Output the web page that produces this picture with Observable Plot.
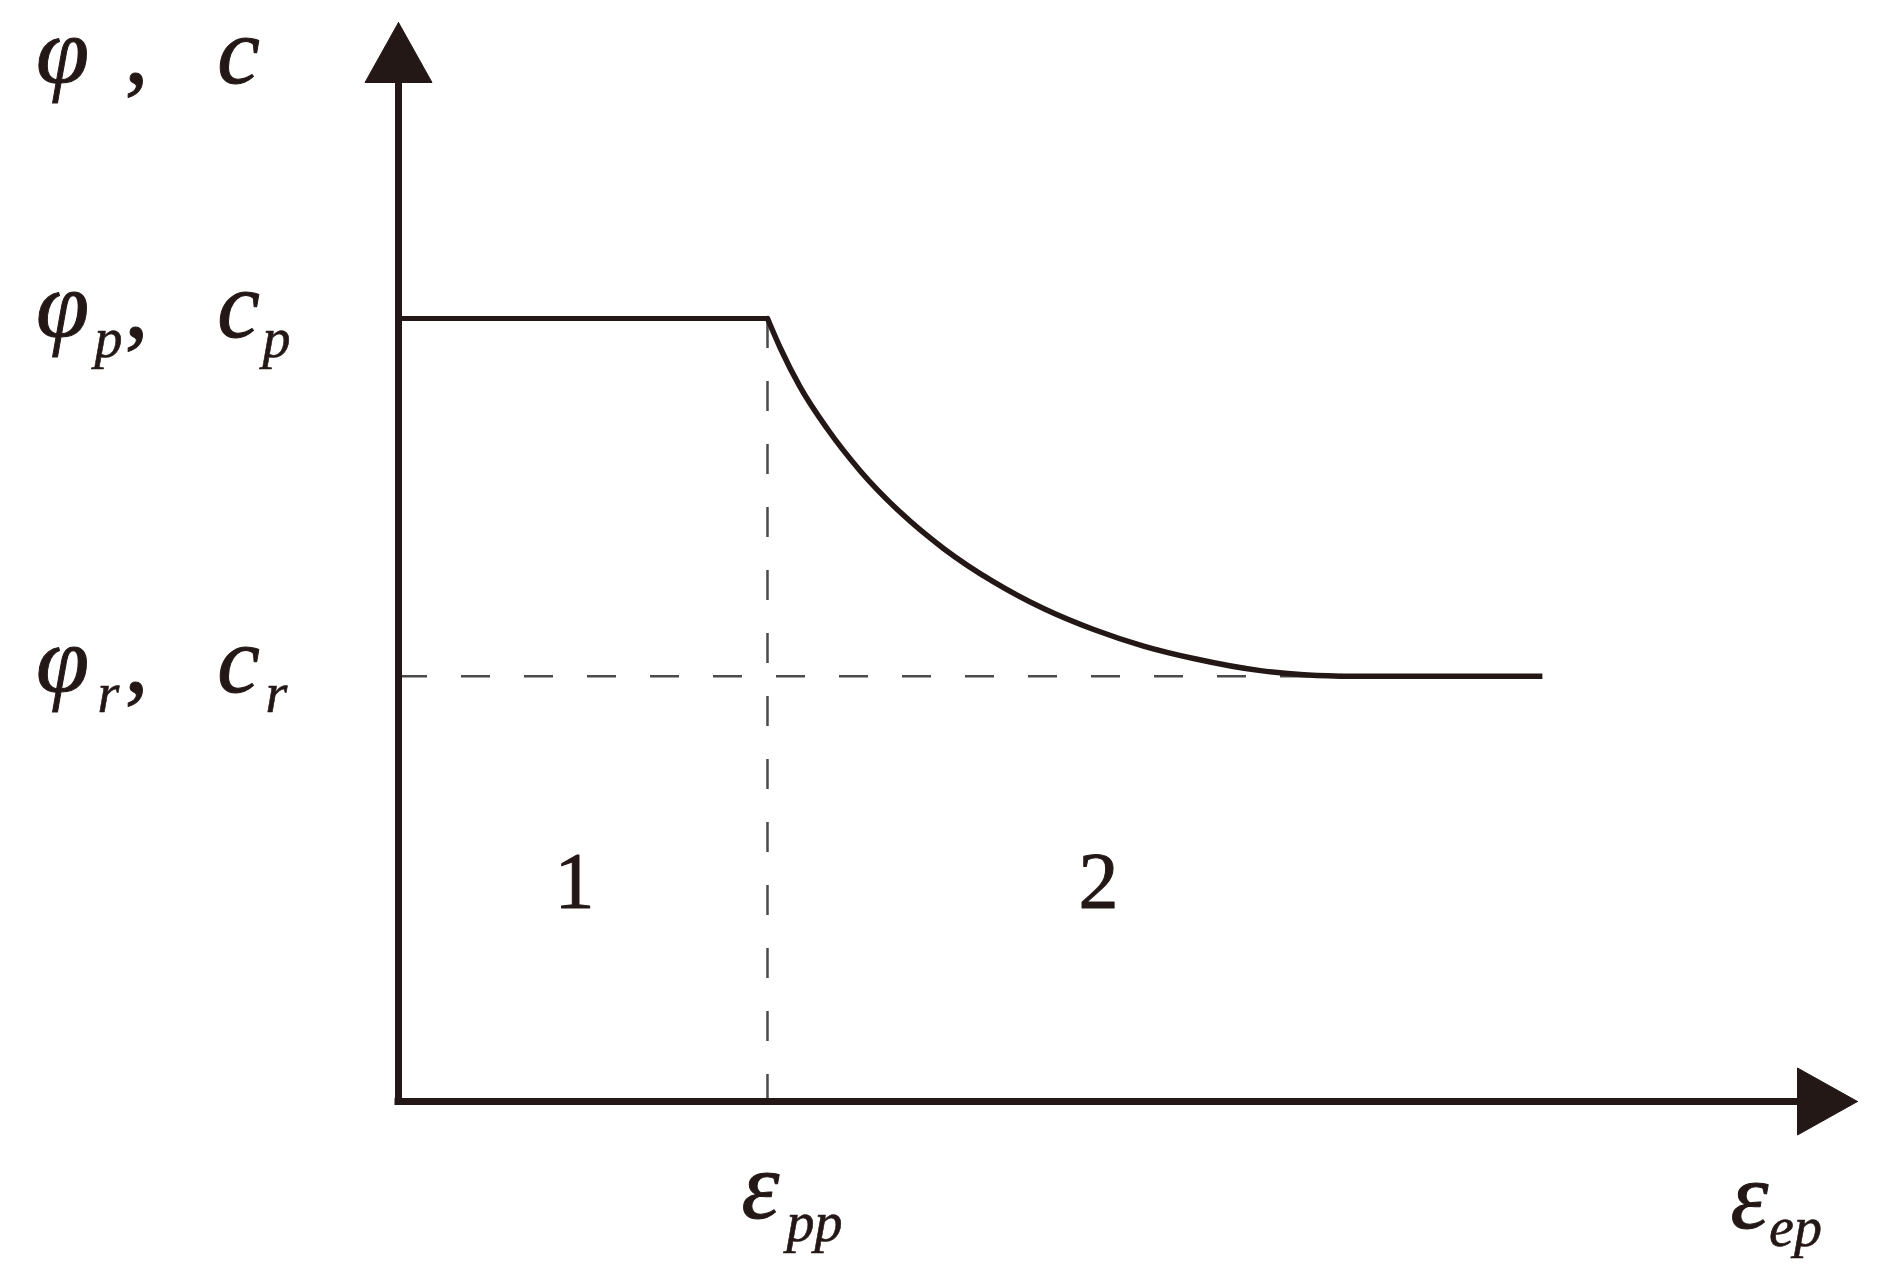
<!DOCTYPE html>
<html>
<head>
<meta charset="utf-8">
<script src="https://cdn.jsdelivr.net/npm/d3@7"></script>
<script src="https://cdn.jsdelivr.net/npm/@observablehq/plot@0.6"></script>
<style>
  html, body { margin: 0; padding: 0; background: #ffffff; }
  #chart svg { display: block; }
</style>
</head>
<body>
<div id="chart"></div>
<script>
// ---- Data (x in units of ε_pp, y in units of the peak strength) ----
const peakStrain = 1.0;            // ε_pp
const peakStrength = 1.0;          // φ_p, c_p
const residualStrength = 0.543;    // φ_r, c_r
const softeningX = [1.000, 1.035, 1.089, 1.163, 1.252, 1.360, 1.477, 1.613, 1.748, 1.884, 2.019, 2.155, 2.336, 2.444, 2.553];
const softeningY = [1.000, 0.962, 0.912, 0.8585, 0.805, 0.7524, 0.7063, 0.6635, 0.6296, 0.6028, 0.5817, 0.5658, 0.5503, 0.5452, 0.543];
const residualEndX = 3.100;
const axisMaxX = 3.954;
const axisMaxY = 1.378;
const regionLabels = ["1", "2"];
const regionLabelX = [0.477, 1.897];
const regionLabelY = [0.2465, 0.2465];
const yLabelMain = ["φ", "φ", "φ"];
const yLabelSecond = ["c", "c", "c"];
const yLabelSub = ["", "p", "r"];
const xLabelMain = ["ε", "ε"];
const xLabelSub = ["pp", "ep"];

// ---- Layout ----
const W = 1879, H = 1275;
const mL = 398, mR = 22, mT = 22, mB = 174;
const pxX = (W - mL - mR) / axisMaxX;
const pxY = (H - mT - mB) / axisMaxY;
const ink = "#231815";
const dashInk = "#4a4a4a";
const serif = "'Liberation Serif', 'Times New Roman', serif";

const peakLine = [{x: 0, y: peakStrength}, {x: peakStrain, y: peakStrength}];
const softening = softeningX.map((x, i) => ({x, y: softeningY[i]}));
const tail = [{x: softeningX[softeningX.length - 1], y: residualStrength}, {x: residualEndX, y: residualStrength}];

// arrow heads (60 px long, 67 px wide)
const headLen = 60, headHalf = 33.5;
const upHead = [
  {x: 0, y: axisMaxY},
  {x: -headHalf / pxX, y: axisMaxY - headLen / pxY},
  {x: headHalf / pxX, y: axisMaxY - headLen / pxY},
  {x: 0, y: axisMaxY}
];
const rightHead = [
  {x: axisMaxX, y: 0},
  {x: axisMaxX - headLen / pxX, y: headHalf / pxY},
  {x: axisMaxX - headLen / pxX, y: -headHalf / pxY},
  {x: axisMaxX, y: 0}
];

const levels = [axisMaxY, peakStrength, residualStrength];
const baseDy = [60, 19, 16];
const yRows = levels.map((y, i) => ({y, main: yLabelMain[i], second: yLabelSecond[i], sub: yLabelSub[i], dy: baseDy[i]}));

const mainFont = {fontFamily: serif, fontStyle: "italic", fontSize: 96, fill: ink, stroke: ink, strokeWidth: 1, lineAnchor: "bottom"};
const subFont = {fontFamily: serif, fontStyle: "italic", fontSize: 56, fill: ink, stroke: ink, strokeWidth: 0.6, lineAnchor: "bottom"};

const marks = [
  // dashed guides
  Plot.ruleX([peakStrain], {y1: peakStrength, y2: 0, stroke: dashInk, strokeWidth: 2.5, strokeDasharray: "30,33"}),
  Plot.ruleY([residualStrength], {x1: 0, x2: softeningX[softeningX.length - 1], stroke: dashInk, strokeWidth: 2.5, strokeDasharray: "29,34"}),
  // axes
  Plot.ruleX([0], {y1: 0, y2: axisMaxY - headLen / pxY + 1 / pxY, stroke: ink, strokeWidth: 7, strokeLinecap: "square"}),
  Plot.ruleY([0], {x1: 0, x2: axisMaxX - headLen / pxX + 1 / pxX, stroke: ink, strokeWidth: 7, strokeLinecap: "square"}),
  Plot.line(upHead, {x: "x", y: "y", fill: ink, stroke: ink, strokeWidth: 1}),
  Plot.line(rightHead, {x: "x", y: "y", fill: ink, stroke: ink, strokeWidth: 1}),
  // strength curve
  Plot.line(peakLine, {x: "x", y: "y", stroke: ink, strokeWidth: 5, strokeLinecap: "round"}),
  Plot.line(softening, {x: "x", y: "y", stroke: ink, strokeWidth: 5.5, curve: "monotone-x", strokeLinecap: "round"}),
  Plot.line(tail, {x: "x", y: "y", stroke: ink, strokeWidth: 5.5, strokeLinecap: "butt"}),
  // region labels
  Plot.text(regionLabels, {x: (d, i) => regionLabelX[i], y: (d, i) => regionLabelY[i], text: d => d,
    fontFamily: serif, fontSize: 80, fill: ink, stroke: ink, strokeWidth: 1, lineAnchor: "bottom"})
];

// y-axis level labels: φ , c with subscripts
for (const r of yRows) {
  marks.push(Plot.text([r], {x: () => 0, y: "y", text: "main", dx: -336, dy: r.dy, ...mainFont}));
  marks.push(Plot.text([r], {x: () => 0, y: "y", text: () => ",", dx: -262, dy: r.dy, ...mainFont, fontStyle: "normal"}));
  marks.push(Plot.text([r], {x: () => 0, y: "y", text: "second", dx: -160, dy: r.dy, ...mainFont}));
  if (r.sub) {
    marks.push(Plot.text([r], {x: () => 0, y: "y", text: "sub", dx: -290, dy: r.dy + 20, ...subFont}));
    marks.push(Plot.text([r], {x: () => 0, y: "y", text: "sub", dx: -122, dy: r.dy + 20, ...subFont}));
  }
}

// x labels
const xAnchors = [peakStrain, axisMaxX];
const xMainDx = [-7, -108], xMainDy = [116, 126];
const xSubDx = [47, -62], xSubDy = [139, 144];
xAnchors.forEach((x, i) => {
  marks.push(Plot.text([xLabelMain[i]], {x: () => x, y: () => 0, text: d => d, dx: xMainDx[i], dy: xMainDy[i], ...mainFont}));
  marks.push(Plot.text([xLabelSub[i]], {x: () => x, y: () => 0, text: d => d, dx: xSubDx[i], dy: xSubDy[i], ...subFont}));
});

const chart = Plot.plot({
  width: W, height: H,
  marginLeft: mL, marginRight: mR, marginTop: mT, marginBottom: mB,
  x: {domain: [0, axisMaxX], axis: null},
  y: {domain: [0, axisMaxY], axis: null},
  style: {background: "#ffffff", overflow: "visible"},
  marks
});
document.getElementById("chart").appendChild(chart);
</script>
</body>
</html>
